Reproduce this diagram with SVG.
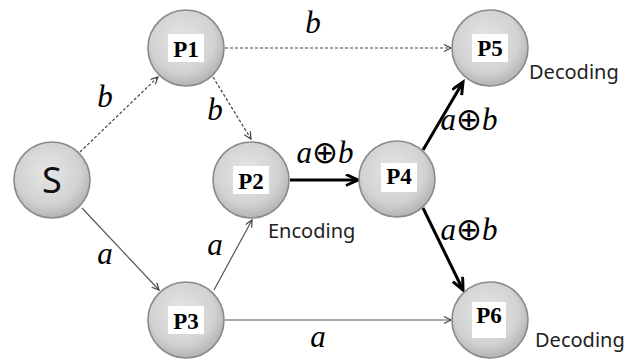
<svg xmlns="http://www.w3.org/2000/svg" width="633" height="364" viewBox="0 0 633 364">
<defs>
<radialGradient id="g" cx="0.45" cy="0.4" r="0.6">
<stop offset="0" stop-color="#e6e6e6"/>
<stop offset="0.7" stop-color="#d2d2d2"/>
<stop offset="1" stop-color="#b4b4b4"/>
</radialGradient>
<marker id="at" markerUnits="userSpaceOnUse" markerWidth="10" markerHeight="10" refX="8" refY="4" orient="auto">
<path d="M1,0.5 L8,4 L1,7.5" fill="none" stroke="#444" stroke-width="1.2"/>
</marker>
<marker id="ak" markerUnits="userSpaceOnUse" markerWidth="16" markerHeight="14" refX="13" refY="6" orient="auto">
<path d="M1,0.5 L13,6 L1,11.5" fill="none" stroke="#000" stroke-width="3"/>
</marker>
</defs>
<style>
.n{fill:url(#g);stroke:#8a8a8a;stroke-width:1.6}
.bx{fill:#fff}
.lb{font-family:"Liberation Serif",serif;font-weight:bold;font-size:23px;text-anchor:middle;fill:#000}
.it{font-family:"Liberation Serif",serif;font-style:italic;font-size:31px;fill:#000}
.op{font-family:"DejaVu Sans",sans-serif;font-style:normal;font-size:31px}
.sn{font-family:"Noto Sans",sans-serif;font-size:20px;fill:#222}
.th{stroke:#555;stroke-width:1.2;fill:none;marker-end:url(#at)}
.ds{stroke:#444;stroke-width:1.2;stroke-dasharray:3 2;fill:none;marker-end:url(#at)}
.tk{stroke:#000;stroke-width:3;fill:none;marker-end:url(#ak)}
</style>
<rect width="633" height="364" fill="#fff"/>
<g id="connectors">
<line class="ds" x1="80" y1="152" x2="158" y2="77"/>
<line class="ds" x1="213" y1="77" x2="251" y2="139"/>
<line class="ds" x1="225" y1="48" x2="451" y2="48"/>
<line class="th" x1="82" y1="208" x2="159" y2="290"/>
<line class="th" x1="214" y1="290" x2="252" y2="220"/>
<line class="th" x1="225" y1="320" x2="451" y2="320"/>
<line class="tk" x1="290" y1="180" x2="358" y2="180"/>
<line class="tk" x1="423" y1="150" x2="463" y2="82"/>
<line class="tk" x1="423" y1="208" x2="463" y2="290"/>
</g>
<g id="edge-labels">
<text class="it" x="313" y="33" text-anchor="middle">b</text>
<text class="it" x="105" y="107" text-anchor="middle">b</text>
<text class="it" x="215" y="120" text-anchor="middle">b</text>
<text class="it" x="105" y="264" text-anchor="middle">a</text>
<text class="it" x="215" y="255" text-anchor="middle">a</text>
<text class="it" x="318" y="347" text-anchor="middle">a</text>
<text class="it" x="325" y="163" text-anchor="middle">a<tspan class="op">⊕</tspan>b</text>
<text class="it" x="469" y="130" text-anchor="middle">a<tspan class="op">⊕</tspan>b</text>
<text class="it" x="469" y="240" text-anchor="middle">a<tspan class="op">⊕</tspan>b</text>
</g>
<g id="S">
<circle class="n" cx="52" cy="180" r="38"/>
<text x="52" y="193" font-family="Noto Sans, sans-serif" font-size="36" text-anchor="middle" fill="#111">S</text>
</g>
<g id="P1">
<circle class="n" cx="186" cy="48" r="38"/>
<rect class="bx" x="168" y="34" width="36" height="28"/>
<text class="lb" x="186" y="57">P1</text>
</g>
<g id="P2">
<circle class="n" cx="251" cy="180" r="38"/>
<rect class="bx" x="233" y="166" width="36" height="28"/>
<text class="lb" x="251" y="189">P2</text>
</g>
<g id="P3">
<circle class="n" cx="186" cy="320" r="38"/>
<rect class="bx" x="168" y="306" width="36" height="28"/>
<text class="lb" x="186" y="329">P3</text>
</g>
<g id="P4">
<circle class="n" cx="397" cy="179" r="38"/>
<rect class="bx" x="381" y="163" width="36" height="29"/>
<text class="lb" x="399" y="184">P4</text>
</g>
<g id="P5">
<circle class="n" cx="490" cy="48" r="38"/>
<rect class="bx" x="472" y="34" width="36" height="28"/>
<text class="lb" x="490" y="56">P5</text>
<text class="sn" x="529" y="79">Decoding</text>
</g>
<g id="P6">
<circle class="n" cx="490" cy="320" r="38"/>
<rect class="bx" x="472" y="302" width="34" height="36"/>
<text class="lb" x="489" y="323">P6</text>
<text class="sn" x="535" y="347">Decoding</text>
</g>
<g id="P2-note">
<text class="sn" x="268" y="238">Encoding</text>
</g>
</svg>
